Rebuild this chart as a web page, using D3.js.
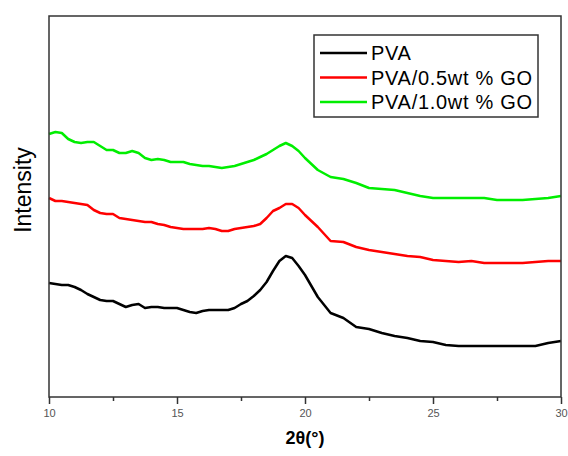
<!DOCTYPE html>
<html lang="en">
<head>
<meta charset="UTF-8">
<title>XRD PVA / GO</title>
<script src="https://d3js.org/d3.v7.min.js"></script>
<style>
  body { margin: 0; background: #fff; }
  text { font-family: Arial, "Liberation Sans", sans-serif; }
</style>
</head>
<body>
<div id="chart"></div>
<script>
// 2theta positions (degrees) and intensities (arbitrary units)
var theta = [10, 10.25, 10.5, 10.75, 11, 11.25, 11.5, 11.75, 12, 12.25,
             12.5, 12.75, 13, 13.25, 13.5, 13.75, 14, 14.25, 14.5, 14.75,
             15, 15.25, 15.5, 15.75, 16, 16.25, 16.5, 16.75, 17, 17.25,
             17.5, 17.75, 18, 18.25, 18.5, 18.75, 19, 19.25, 19.5, 19.75,
             20,
             20.5, 21, 21.5, 22, 22.5, 23, 23.5, 24, 24.5, 25,
             25.5, 26, 26.5, 27, 27.5, 28, 28.5, 29, 29.5, 30];

var pva = [114, 113, 112, 112, 110, 107, 103, 100, 97, 96,
           96, 93, 90, 92, 93, 89, 90, 90, 89, 89,
           89, 87, 85, 84, 86, 87, 87, 87, 87, 89,
           93, 96, 101, 107, 115, 126, 136, 141, 139, 131,
           122,
           100, 84, 79, 70, 68, 64, 61, 59, 56, 55,
           52, 51, 51, 51, 51, 51, 51, 51, 54, 56];

var go05 = [199, 196, 196, 195, 194, 193, 192, 187, 184, 183,
            183, 179, 178, 177, 176, 175, 175, 173, 172, 170,
            169, 168, 168, 168, 168, 169, 168, 166, 166, 168,
            169, 170, 171, 173, 179, 186, 189, 193, 193, 189,
            182,
            170, 156, 155, 150, 147, 145, 143, 141, 140, 137,
            136, 135, 136, 134, 134, 134, 134, 135, 136, 136];

var go10 = [263, 265, 264, 258, 255, 254, 255, 255, 251, 247,
            247, 244, 244, 246, 244, 239, 237, 238, 237, 235,
            235, 235, 233, 232, 231, 231, 230, 229, 230, 231,
            233, 235, 237, 240, 243, 247, 251, 254, 251, 246,
            239,
            227, 220, 218, 214, 209, 208, 207, 204, 201, 199,
            199, 199, 199, 199, 197, 197, 197, 198, 199, 201];

var series = [
  { name: "PVA", values: pva, color: "#000000" },
  { name: "PVA/0.5wt % GO", values: go05, color: "#ff0000" },
  { name: "PVA/1.0wt % GO", values: go10, color: "#00ee00" }
];

var xTicks = [10, 15, 20, 25, 30];
var xMinor = [12.5, 17.5, 22.5, 27.5];

var width = 568, height = 456;
var margin = { top: 16, right: 7, bottom: 59, left: 49 };

var svg = d3.select("#chart").append("svg")
    .attr("width", width)
    .attr("height", height);

var x = d3.scaleLinear().domain([10, 30]).range([margin.left, width - margin.right]);
var y = d3.scaleLinear().domain([0, 381]).range([height - margin.bottom, margin.top]);

// curves
var line = d3.line()
    .x(function(d) { return x(d[0]); })
    .y(function(d) { return y(d[1]); });

svg.selectAll(".curve")
    .data(series)
    .enter()
    .append("path")
    .attr("class", "curve")
    .attr("d", function(s) { return line(theta.map(function(t, i) { return [t, s.values[i]]; })); })
    .style("fill", "none")
    .style("stroke", function(s) { return s.color; })
    .style("stroke-width", 2.5)
    .style("stroke-linejoin", "round");

// frame
svg.append("rect")
    .attr("x", x(10))
    .attr("y", y(381))
    .attr("width", x(30) - x(10))
    .attr("height", y(0) - y(381))
    .style("fill", "none")
    .style("stroke", "#333")
    .style("stroke-width", 1.5);

// bottom axis
var xAxis = svg.append("g")
    .attr("transform", "translate(0," + y(0) + ")")
    .call(d3.axisBottom(x).tickValues(xTicks).tickSize(7).tickPadding(5).tickFormat(d3.format("d")));
xAxis.select(".domain").remove();
xAxis.selectAll("line").style("stroke", "#333").style("stroke-width", 1.5);
xAxis.selectAll("text").style("font-size", "11px").style("fill", "#555")
    .style("font-family", "Arial, 'Liberation Sans', sans-serif");

var minor = svg.append("g")
    .attr("transform", "translate(0," + y(0) + ")")
    .call(d3.axisBottom(x).tickValues(xMinor).tickSize(4).tickFormat(""));
minor.select(".domain").remove();
minor.selectAll("line").style("stroke", "#333").style("stroke-width", 1.5);

// axis titles
svg.append("text")
    .attr("x", x(20))
    .attr("y", 444)
    .attr("text-anchor", "middle")
    .style("font-size", "18px")
    .style("font-weight", "bold")
    .text("2θ(°)");

svg.append("text")
    .attr("transform", "translate(31,190) rotate(-90)")
    .attr("text-anchor", "middle")
    .style("font-size", "23px")
    .text("Intensity");

// legend
var legend = svg.append("g").attr("transform", "translate(314,35)");
legend.append("rect")
    .attr("width", 224)
    .attr("height", 82)
    .style("fill", "#fff")
    .style("stroke", "#333")
    .style("stroke-width", 1.5);

var item = legend.selectAll(".item")
    .data(series)
    .enter()
    .append("g")
    .attr("class", "item")
    .attr("transform", function(d, i) { return "translate(0," + (18 + i * 24.5) + ")"; });

item.append("line")
    .attr("x1", 6).attr("x2", 53)
    .style("stroke", function(d) { return d.color; })
    .style("stroke-width", 2.5);

item.append("text")
    .attr("x", 57)
    .attr("y", 7)
    .style("font-size", "20px")
    .style("letter-spacing", "0.7px")
    .text(function(d) { return d.name; });
</script>
</body>
</html>
